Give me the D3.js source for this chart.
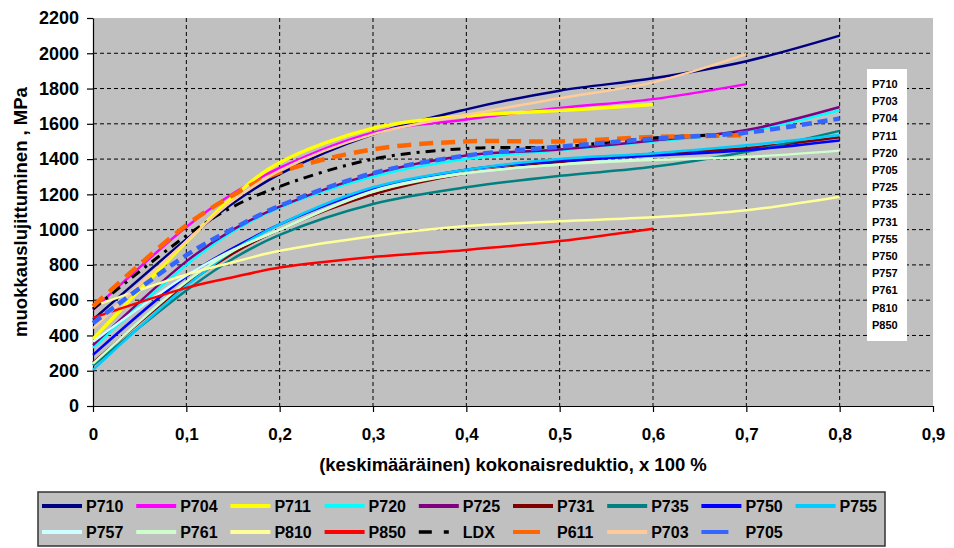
<!DOCTYPE html>
<html>
<head>
<meta charset="utf-8">
<script src="https://cdn.jsdelivr.net/npm/d3@7"></script>
<style>
  body { margin: 0; background: #fff; }
  text { font-family: Arial, "Liberation Sans", sans-serif; font-weight: bold; }
</style>
</head>
<body>
<div id="chart"></div>
<script>
// reduction values (x) shared by all series
var reductions = [0, 0.1, 0.15, 0.2, 0.3, 0.4, 0.5, 0.6, 0.7, 0.8];

// work hardening, MPa (null = no measurement)
var p710 = [490, 945, 1150, 1315, 1540, 1682, 1788, 1858, 1955, 2100];
var p704 = [545, 1015, 1205, 1350, 1550, 1625, 1690, 1740, 1825, null];
var p711 = [380, 930, 1185, 1380, 1575, 1645, 1675, 1710, null, null];
var p720 = [330, 800, 990, 1125, 1300, 1400, 1450, 1500, 1556, 1677];
var p725 = [345, 820, 1000, 1130, 1315, 1420, 1455, 1505, 1565, 1695];
var p731 = [245, 690, 865, 1000, 1200, 1320, 1380, 1430, 1462, 1524];
var p735 = [230, 655, 835, 970, 1145, 1240, 1305, 1356, 1442, 1560];
var p750 = [290, 735, 895, 1030, 1230, 1340, 1390, 1420, 1450, 1505];
var p755 = [205, 680, 880, 1030, 1240, 1340, 1400, 1432, 1478, 1537];
var p757 = [365, 740, 885, 1000, 1220, 1320, 1370, 1400, null, null];
var p761 = [240, 705, 880, 1000, 1215, 1320, 1368, 1395, 1412, 1448];
var p810 = [565, 745, 815, 880, 963, 1020, 1048, 1070, 1110, 1187];
var p850 = [500, 670, 730, 785, 845, 885, 935, 1005, null, null];
var ldx = [550, 965, 1130, 1245, 1400, 1460, 1470, 1520, 1545, null];
var p611 = [565, 1025, 1195, 1325, 1455, 1500, 1500, 1525, 1535, null];
var p703 = [440, 935, 1165, 1335, 1540, 1650, 1745, 1835, 1995, null];
var p705 = [470, 855, 1005, 1135, 1320, 1420, 1470, 1515, 1550, 1630];

var seriesNames = ["P710", "P704", "P711", "P720", "P725", "P731", "P735", "P750", "P755",
  "P757", "P761", "P810", "P850", "LDX", "P611", "P703", "P705"];
var seriesValues = [p710, p704, p711, p720, p725, p731, p735, p750, p755,
  p757, p761, p810, p850, ldx, p611, p703, p705];
var seriesColors = ["#000080", "#FF00FF", "#FFFF00", "#00FFFF", "#800080", "#800000", "#008080",
  "#0000FF", "#00CCFF", "#CCFFFF", "#CCFFCC", "#FFFF99", "#FF0000", "#000000", "#FF6600",
  "#FFCC99", "#3366FF"];

// label list in the white box on the right
var boxLabels = ["P710", "P703", "P704", "P711", "P720", "P705", "P725", "P735", "P731",
  "P755", "P750", "P757", "P761", "P810", "P850"];

var xTicks = [0, 0.1, 0.2, 0.3, 0.4, 0.5, 0.6, 0.7, 0.8, 0.9];
var yTicks = [0, 200, 400, 600, 800, 1000, 1200, 1400, 1600, 1800, 2000, 2200];

var series = seriesNames.map(function(name, i) {
  return { name: name, color: seriesColors[i],
    points: reductions.map(function(r, j) { return { x: r, y: seriesValues[i][j] }; }) };
});

function lineStyle(name) {
  if (name === "LDX") return { width: 3, dash: "10,6,3,6" };
  if (name === "P611") return { width: 4.5, dash: "14,8" };
  if (name === "P705") return { width: 4.5, dash: "10,6" };
  if (name === "P711") return { width: 3.5, dash: null };
  return { width: 2.5, dash: null };
}

var svgWidth = 954;
var svgHeight = 548;
var margin = { top: 18, right: 21, bottom: 142, left: 93 };
var chartWidth = svgWidth - margin.left - margin.right;
var chartHeight = svgHeight - margin.top - margin.bottom;

var svg = d3.select("#chart").append("svg")
  .attr("width", svgWidth)
  .attr("height", svgHeight);

var chartGroup = svg.append("g")
  .attr("transform", `translate(${margin.left}, ${margin.top})`);

var xScale = d3.scaleLinear().domain([0, 0.9]).range([0, chartWidth]);
var yScale = d3.scaleLinear().domain([0, 2200]).range([chartHeight, 0]);

// plot background
chartGroup.append("rect")
  .attr("width", chartWidth)
  .attr("height", chartHeight)
  .attr("fill", "#c0c0c0");

// dashed gridlines
chartGroup.append("g").selectAll("line")
  .data(yTicks.filter(function(d) { return d > 0 && d < 2200; }))
  .enter().append("line")
  .attr("x1", 0).attr("x2", chartWidth)
  .attr("y1", d => yScale(d)).attr("y2", d => yScale(d))
  .attr("stroke", "#000").attr("stroke-width", 1).attr("stroke-dasharray", "4,3");

chartGroup.append("g").selectAll("line")
  .data(xTicks.filter(function(d) { return d > 0 && d < 0.9; }))
  .enter().append("line")
  .attr("x1", d => xScale(d)).attr("x2", d => xScale(d))
  .attr("y1", 0).attr("y2", chartHeight)
  .attr("stroke", "#000").attr("stroke-width", 1).attr("stroke-dasharray", "4,3");

// axes
var leftAxis = d3.axisLeft(yScale).tickValues(yTicks).tickSize(6).tickSizeOuter(0)
  .tickFormat(d3.format("d"));
var bottomAxis = d3.axisBottom(xScale).tickValues(xTicks).tickSize(6).tickSizeOuter(0)
  .tickFormat(d => String(d).replace(".", ","));

var yAxis = chartGroup.append("g").call(leftAxis);
yAxis.selectAll("text").attr("font-size", 18).attr("x", -14).attr("fill", "#000");
var xAxis = chartGroup.append("g")
  .attr("transform", `translate(0, ${chartHeight})`)
  .call(bottomAxis);
xAxis.selectAll("text").attr("font-size", 17).attr("y", 22).attr("fill", "#000");
chartGroup.selectAll(".domain, .tick line").attr("stroke", "#000").attr("stroke-width", 1.2);

// curves
var line = d3.line()
  .x(d => xScale(d.x))
  .y(d => yScale(d.y))
  .curve(d3.curveCatmullRom.alpha(0.5));

chartGroup.append("g").selectAll("path")
  .data(series)
  .enter().append("path")
  .attr("d", d => line(d.points.filter(p => p.y !== null)))
  .attr("fill", "none")
  .attr("stroke", d => d.color)
  .attr("stroke-width", d => lineStyle(d.name).width)
  .attr("stroke-dasharray", d => lineStyle(d.name).dash)
  .attr("stroke-linecap", "butt");

// axis titles
svg.append("text")
  .attr("x", 513).attr("y", 471)
  .attr("text-anchor", "middle")
  .attr("font-size", 18.5)
  .text("(keskimääräinen) kokonaisreduktio, x 100 %");

svg.append("text")
  .attr("transform", "translate(27, 212) rotate(-90)")
  .attr("text-anchor", "middle")
  .attr("font-size", 18.5)
  .text("muokkauslujittuminen , MPa");

// white label box at right
var box = svg.append("g").attr("transform", "translate(867, 69)");
box.append("rect").attr("width", 40).attr("height", 272).attr("fill", "#fff");
box.selectAll("text")
  .data(boxLabels)
  .enter().append("text")
  .attr("x", 5)
  .attr("y", (d, i) => 19 + i * 17.2)
  .attr("font-size", 11)
  .text(d => d);

// legend
var legend = svg.append("g").attr("transform", "translate(38, 492)");
legend.append("rect")
  .attr("width", 847).attr("height", 54)
  .attr("fill", "#c0c0c0").attr("stroke", "#333").attr("stroke-width", 1.5);

var legendItems = legend.selectAll("g.item")
  .data(series)
  .enter().append("g")
  .attr("class", "item")
  .attr("transform", (d, i) => `translate(${4 + (i % 9) * 94.2}, ${i < 9 ? 14 : 40})`);

legendItems.append("path")
  .attr("d", function(d) {
    if (d.name === "LDX") return "M0,0H13M25,0H30";
    if (d.name === "P611" || d.name === "P705") return "M0,0H27";
    return "M0,0H40";
  })
  .attr("stroke", d => d.color)
  .attr("stroke-width", d => d.name === "LDX" ? 3.5 : 4)
  .attr("fill", "none");

legendItems.append("text")
  .attr("x", 44)
  .attr("y", 6)
  .attr("font-size", 16)
  .text(d => d.name);
</script>
</body>
</html>
